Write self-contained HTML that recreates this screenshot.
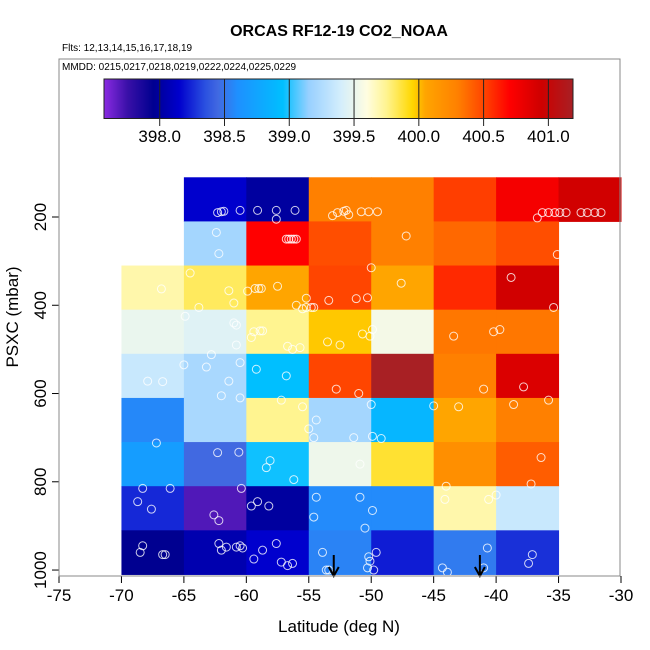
<!DOCTYPE html>
<html><head><meta charset="utf-8"><style>
body{margin:0;background:#fff}
svg{display:block;font-family:"Liberation Sans",sans-serif}
</style></head><body>
<svg id="c" width="650" height="650" xmlns="http://www.w3.org/2000/svg">
<text x="339" y="36" text-anchor="middle" font-size="16" font-weight="bold">ORCAS RF12-19 CO2_NOAA</text>
<text x="62" y="51" font-size="10">Flts: 12,13,14,15,16,17,18,19</text>
<text x="62" y="70" font-size="10">MMDD: 0215,0217,0218,0219,0222,0224,0225,0229</text>
<g id="cells"></g>
<g id="pts"></g>
<g id="cbar"></g>
<g id="axes"></g>
<rect x="59" y="59" width="561" height="517" fill="none" stroke="#888" stroke-width="1"/>
<text x="339" y="632" text-anchor="middle" font-size="17">Latitude (deg N)</text>
<text transform="translate(18,317) rotate(-90)" text-anchor="middle" font-size="17">PSXC (mbar)</text>
</svg>
<script>
const latBins=[-70,-65,-60,-55,-50,-45,-40,-35];
const presBins=[160,260,360,460,560,660,760,860,960];
// values per row (top->bottom), per column starting -70; null = no data
const cellValues=[
[null,398.15,398.0,400.3,400.3,400.52,400.75,400.93],
[null,399.2,400.7,400.47,400.3,400.38,400.47,null],
[399.7,399.82,400.05,400.5,400.05,400.58,400.93,null],
[399.5,399.45,399.75,399.98,399.55,400.33,400.33,null],
[399.35,399.22,398.95,400.5,401.19,400.3,400.88,null],
[398.57,399.22,399.75,399.2,398.88,400.05,400.3,null],
[398.7,398.45,398.97,399.52,399.88,400.2,400.42,null],
[398.25,397.7,398.0,398.58,398.58,399.7,399.35,null],
[397.95,398.05,398.15,398.55,398.22,398.52,398.27,null]
];
const ptLat=[-62.3,-62,-61.8,-60.5,-59.1,-57.6,-57.6,-56.1,-53.1,-52.7,-52.2,-52.0,-51.8,-50.8,-50.2,-49.5,-47.2,-36.7,-36.3,-35.8,-35.3,-34.9,-34.4,-33.2,-32.7,-32.1,-31.6,
-62.4,-62.2,-56.8,-56.6,-56.4,-56.2,-56.0,-50.0,-35.1,
-66.8,-64.5,-63.8,-61.4,-61.0,-59.9,-59.3,-59.0,-58.8,-57.5,-55.2,-56.0,-55.5,-55.2,-54.8,-54.6,-53.4,-51.2,-50.3,-47.6,-38.8,-35.4,
-64.9,-61.0,-60.8,-59.4,-59.6,-60.8,-58.9,-58.7,-56.7,-56.3,-55.7,-50.7,-50.1,-49.9,-43.4,-40.2,-39.7,-52.5,-53.5,
-67.9,-66.7,-65.0,-61.4,-62.8,-63.2,-60.5,-59.2,-56.8,-52.8,-51.0,-50.0,-41.0,-37.8,-38.6,
-60.5,-62.0,-57.2,-55.5,-55.0,-54.4,-51.4,-49.9,-49.2,-45.0,-43.0,-35.8,
-67.2,-62.3,-60.6,-58.4,-58.1,-54.6,-50.9,-44.0,-36.4,-37.2,
-68.3,-67.6,-68.7,-66.1,-62.6,-62.2,-60.4,-59.6,-59.1,-58.2,-56.2,-54.4,-54.6,-50.9,-50.5,-49.9,-44.1,-40.6,-40.0,
-68.3,-68.5,-66.7,-66.5,-62.2,-62.0,-61.6,-60.8,-60.5,-60.3,-59.4,-58.7,-57.6,-57.2,-56.7,-56.3,-53.9,-53.6,-53.4,-50.1,-50.3,-49.8,-49.6,-50.2,-44.3,-43.9,-41.0,-40.7,-37.4,-37.1];
const ptPres=[190,188,187,185,185,185,205,185,197,190,187,185,195,188,188,188,243,202,190,190,190,190,190,190,190,190,190,
235,283,250,250,250,250,250,315,285,
363,327,405,367,395,368,362,362,362,357,384,400,408,405,405,405,389,385,383,350,337,405,
425,440,445,460,473,490,458,458,493,500,496,465,470,455,470,460,455,490,483,
572,573,535,572,512,540,530,545,560,590,600,625,590,585,625,
610,605,615,630,680,660,700,697,702,628,630,615,
712,734,733,768,752,700,760,810,745,805,
815,862,845,815,875,888,815,855,845,855,795,835,880,835,905,865,840,840,830,
945,960,965,965,940,955,948,948,945,950,975,955,940,982,990,985,960,1000,1000,
980,995,1000,960,970,995,1005,995,950,985,965,1000];
// colormap stops (value, color)
const cmV=[397.57,397.75,397.95,398.15,398.35,398.45,398.6,398.95,399.15,399.4,399.6,399.75,399.95,400.05,400.3,400.5,400.7,400.95,401.19];
const cmC=["#8a2be2","#3a10a8","#000090","#0000cd","#2a50e0","#4169e1","#1e90ff","#00bfff","#98d0ff","#d4eefc","#fffde0","#fff490","#ffd700","#ffa500","#ff8000","#ff4500","#ff0000","#cd0000","#a82024"];
const cbTicks=[398.0,398.5,399.0,399.5,400.0,400.5,401.0];
const xTicks=[-75,-70,-65,-60,-55,-50,-45,-40,-35,-30];
const yTicks=[200,400,600,800,1000];
const arrowLat=[-53.0,-41.3];

const NS="http://www.w3.org/2000/svg";
const X=v=>59+(v+75)*562/45;
const Y=p=>217+(p-200)*0.4413;
const CB=v=>104+(v-397.57)*(573-104)/(401.19-397.57);
function hx(c){return [1,3,5].map(i=>parseInt(c.substr(i,2),16));}
function cmap(v){
  if(v<=cmV[0])return cmC[0];
  for(let i=1;i<cmV.length;i++){if(v<=cmV[i]){const t=(v-cmV[i-1])/(cmV[i]-cmV[i-1]);const a=hx(cmC[i-1]),b=hx(cmC[i]);return "rgb("+a.map((x,k)=>Math.round(x+(b[k]-x)*t)).join(",")+")";}}
  return cmC[cmC.length-1];
}
function mk(t,at,par){const e=document.createElementNS(NS,t);for(const k in at)e.setAttribute(k,at[k]);par.appendChild(e);return e;}
const cells=document.getElementById('cells');
cellValues.forEach((row,r)=>row.forEach((v,c)=>{
  if(v==null)return;
  const x0=X(latBins[c]),x1=X(latBins[c]+5),y0=Y(presBins[r]-50),y1=Y(presBins[r]+50);
  const e=mk('rect',{x:x0,y:y0,width:x1-x0+0.5,height:y1-y0+0.5,fill:cmap(v)},cells);
  
  
}));
const pts=document.getElementById('pts');
ptLat.forEach((la,i)=>{
  const e=mk('circle',{cx:X(la),cy:Y(ptPres[i]),r:4,fill:'none',stroke:'rgba(255,255,255,0.8)','stroke-width':1},pts);
  
  
});
const axes=document.getElementById('axes');
arrowLat.forEach(a=>{
  const g=mk('g',{},axes);
  
  
  mk('line',{x1:X(a),x2:X(a),y1:555,y2:575,stroke:'#000','stroke-width':2},g);
  mk('path',{d:`M${X(a)-5},567 L${X(a)},576 L${X(a)+5},567`,fill:'none',stroke:'#000','stroke-width':2},g);
});
// colorbar
const cb=document.getElementById('cbar');
for(let px=104;px<573;px++){mk('rect',{x:px,y:79,width:1.2,height:39.5,fill:cmap(397.57+(px+0.5-104)*(401.19-397.57)/469)},cb);}
mk('rect',{x:104,y:79,width:469,height:39.5,fill:'none',stroke:'#222'},cb);
cbTicks.forEach(t=>{
  mk('line',{x1:CB(t),x2:CB(t),y1:79,y2:126,stroke:'#222','stroke-width':1},cb);
  const tx=mk('text',{x:CB(t),y:142,'text-anchor':'middle','font-size':17},cb);tx.textContent=t.toFixed(1);
  
  
});
// axes
mk('line',{x1:59,x2:620,y1:576,y2:576,stroke:'#000'},axes);
xTicks.forEach(t=>{
  mk('line',{x1:X(t),x2:X(t),y1:576,y2:583,stroke:'#000'},axes);
  const tx=mk('text',{x:X(t),y:601,'text-anchor':'middle','font-size':17},axes);tx.textContent=t;
  
  
});
yTicks.forEach(t=>{
  mk('line',{x1:52,x2:59,y1:Y(t),y2:Y(t),stroke:'#000'},axes);
  const tx=mk('text',{transform:`translate(46,${Y(t)}) rotate(-90)`,'text-anchor':'middle','font-size':17},axes);tx.textContent=t;
  
  
});
</script>
</body></html>
